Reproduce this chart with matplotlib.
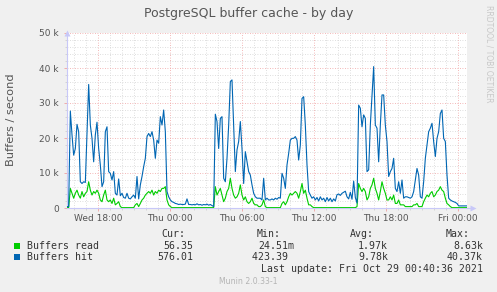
import numpy as np
import matplotlib
matplotlib.use("Agg")
import matplotlib.pyplot as plt
import matplotlib.dates as mdates
from matplotlib.patches import Rectangle

# ---------------- data (k buffers / second) ----------------
start_time = np.datetime64("2021-10-27T15:25:00")
step_seconds = 500

buffers_hit = [
    0.4, 0.4, 27.7, 20.9, 15.1, 17, 23.9, 21.8, 7.5, 7,
    7.5, 7.3, 20.9, 35.3, 23.7, 19.9, 13.2, 20.9, 24.5, 17,
    12.3, 6.1, 7.5, 21.8, 23.2, 10.4, 9.9, 8, 10.4, 4.2,
    3.7, 8.3, 3.5, 4.2, 3, 2.8, 4.2, 2.8, 2.6, 3.2,
    3.7, 2.8, 9, 2.6, 6.6, 9, 11.8, 14.2, 20.4, 21.3,
    20.4, 21.8, 19.4, 14.2, 19.4, 18.5, 26.1, 23.7, 28, 21.8,
    4.7, 3.2, 2.3, 1.8, 1.6, 1.3, 1.2, 1, 1.1, 1,
    1, 1.1, 2.6, 1, 1, 0.9, 1, 0.9, 1.2, 0.9,
    1, 0.8, 1, 0.9, 1.1, 0.8, 1, 0.7, 0.4, 26.8,
    24.7, 17, 25.6, 26.1, 8.5, 7.5, 14.2, 23.7, 36.1, 36.6,
    23.7, 10.4, 16.6, 19, 24.7, 17, 7, 16.1, 13.2, 10.4,
    9.4, 6.6, 4.2, 3.2, 2.8, 2.8, 2.8, 2.3, 8.5, 2.3,
    2.8, 2.3,
    2.3, 2.6, 2.3, 2.8, 2.5, 3, 2.8, 9.9, 8.5, 5.6,
    12.3, 15.6, 19.4, 19.9, 19.9, 20.4, 19.4, 13.7, 18, 31.3,
    31.8, 23.7, 12.3, 4.7, 3.7, 2.8, 3.2, 2.3, 3, 2,
    3.2, 2.3, 2.8, 1.8, 3, 2, 2.8, 1.8, 2.6, 2,
    3.8, 4, 3.6, 4.2, 4.5, 4.8, 3.2, 2.6, 4.5, 2.5,
    7.7, 3, 1.4, 29.4, 28.5, 23.2, 26.6, 25.6, 10.4, 10.9,
    23.7, 32.3, 40.4, 23.7, 22.8, 13.2, 23.7, 32.3, 32.3, 23.7,
    19, 9, 10.4, 11.3, 14.2, 5.6, 4.7, 7.5, 4.2, 8,
    2.8, 3.2, 3.2, 3, 2.8, 3.2, 4.7, 8, 11.3, 9.4,
    3.2, 2.8, 7.5, 14.2, 18, 21.8, 22.8, 24.2, 19, 14.7,
    19.9, 21.8, 27, 28, 19.9, 19, 9.4, 2.8, 2.3, 2,
    1.8, 1.6, 1.3, 0.6, 0.6, 0.6, 0.6, 0.6, 0.6,
]

buffers_read = [
    0.1, 0.1, 5.6, 4.2, 2.8, 4.2, 5.1, 3.7, 2.8, 4.7,
    3.2, 4.2, 4.7, 7.5, 5.1, 3.7, 4.7, 4.2, 5.1, 4.2,
    2.3, 1.8, 3.7, 5.1, 2.3, 1.8, 2.3, 1.3, 2.8, 0.9,
    1.3, 1.8, 0.4, 0.1, 0.1, 0.1, 0.1, 0.1, 0.1, 0.1,
    0.1, 0.9, 1.3, 0.4, 1.3, 2.3, 2.8, 3.7, 4.2, 4.7,
    4.2, 5.1, 3.7, 4.7, 4.2, 5.1, 4.7, 5.6, 5.6, 6.1,
    2.3, 0.9, 0.4, 0.1, 0.1, 0.1, 0.1, 0.1, 0.1, 0.1,
    0.1, 0.1, 0.1, 0.1, 0.1, 0.1, 0.1, 0.1, 0.1, 0.1,
    0.1, 0.1, 0.1, 0.1, 0.1, 0.1, 0.1, 0.1, 0.1, 6.1,
    3.7, 4.7, 5.6, 3.7, 1.8, 2.8, 4.7, 5.6, 8.5, 5.6,
    3.7, 2.8, 3.2, 4.2, 6.6, 3.7, 2.3, 3.2, 1.8, 1.3,
    1.8, 2.8, 1.3, 0.9, 0.9, 0.4, 0.4, 0.9, 2.3, 0.4,
    0.1, 0.1,
    0.1, 0.1, 0.1, 0.1, 0.1, 0.1, 0.1, 1.3, 1.8, 0.9,
    1.8, 3.2, 4.2, 3.7, 4.2, 4.7, 4.2, 2.8, 4.7, 7,
    4.2, 5.1, 2.8, 0.9, 0.9, 0.4, 0.1, 0.1, 0.1, 0.1,
    0.1, 0.1, 0.1, 0.1, 0.1, 0.1, 0.1, 0.1, 0.1, 0.1,
    0.1, 0.1, 0.1, 0.1, 0.1, 0.1, 0.1, 0.1, 0.1, 0.1,
    0.1, 0.1, 0.4, 7, 5.6, 4.7, 5.6, 4.7, 2.3, 3.2,
    5.6, 6.6, 8.5, 5.6, 4.2, 2.3, 4.7, 7.5, 5.6, 4.2,
    2.3, 2.3, 3.2, 2.3, 3.7, 1.3, 1.3, 2.3, 0.9, 0.9,
    0.9, 0.4, 0.4, 0.4, 0.4, 0.4, 0.9, 0.9, 1.3, 0.4,
    0.4, 0.4, 1.8, 2.8, 3.7, 3.2, 4.2, 4.7, 3.2, 3.7,
    4.7, 5.1, 6.1, 5.1, 4.7, 2.8, 1.3, 0.9, 0.4, 0.1,
    0.1, 0.1, 0.1, 0.1, 0.1, 0.1, 0.1, 0.1, 0.1,
]

series_names = ["Buffers read", "Buffers hit"]
series_colors = ["#00CC00", "#0066B3"]
legend_cur = ["56.35", "576.01"]
legend_min = ["24.51m", "423.39"]
legend_avg = ["1.97k", "9.78k"]
legend_max = ["8.63k", "40.37k"]
y_ticks = [0, 10, 20, 30, 40, 50]
y_tick_labels = ["0", "10 k", "20 k", "30 k", "40 k", "50 k"]

# ---------------- figure ----------------
W, H = 497, 292
fig = plt.figure(figsize=(W / 100, H / 100), dpi=100, facecolor="#F0F0F0")

def fx(x):
    return x / W

def fy(y):
    return 1 - y / H

L, R, T, B = 67, 467, 33, 208
ax = fig.add_axes([fx(L), fy(B), (R - L) / W, (B - T) / H])
ax.set_facecolor("white")

def times(n):
    return start_time + np.arange(n) * np.timedelta64(step_seconds, "s")

t_hit = times(len(buffers_hit))
t_read = times(len(buffers_read))

ax.plot(t_read, buffers_read, color=series_colors[0], lw=0.8, zorder=3)
ax.plot(t_hit, buffers_hit, color=series_colors[1], lw=0.8, zorder=4)

ax.set_xlim(np.datetime64("2021-10-27T15:25:00"), np.datetime64("2021-10-29T00:45:00"))
ax.set_ylim(0, 50)

ax.xaxis.set_major_locator(mdates.HourLocator(byhour=[0, 6, 12, 18]))
ax.xaxis.set_minor_locator(mdates.HourLocator())
ax.xaxis.set_major_formatter(mdates.DateFormatter("%a %H:%M"))
ax.set_yticks(y_ticks)
ax.set_yticklabels(y_tick_labels)
ax.yaxis.set_minor_locator(matplotlib.ticker.MultipleLocator(2))

ax.grid(which="major", color="#F0A0A0", linestyle=(0, (1, 2)), lw=0.6)
ax.grid(which="minor", color="#D4D4D4", linestyle=(0, (1, 2)), lw=0.6)
ax.set_axisbelow(True)

for s in ["top", "right"]:
    ax.spines[s].set_visible(False)
for s in ["left", "bottom"]:
    ax.spines[s].set_color("#C8C8F8")
    ax.spines[s].set_linewidth(0.8)

ax.tick_params(axis="both", which="major", labelsize=6.5, labelcolor="#555555",
               color="#F0A0A0", length=2, width=0.6)
ax.tick_params(axis="both", which="minor", color="#C8C8C8", length=1.5, width=0.5)
ax.tick_params(axis="y", pad=4)
ax.tick_params(axis="x", pad=2.5)

# axis arrows
ax.plot([1.0, 1.015], [0, 0], transform=ax.transAxes, color="#C8C8F8", lw=0.8, clip_on=False)
ax.plot([1.015], [0], transform=ax.transAxes, marker=">", ms=4, color="#C8C8F8",
        mec="none", clip_on=False)
ax.plot([0], [1.0], transform=ax.transAxes, marker="^", ms=4, color="#C8C8F8",
        mec="none", clip_on=False)

# texts
fig.text(fx(248.7), fy(13.5), "PostgreSQL buffer cache - by day", ha="center", va="center",
         fontsize=9, color="#555555")
fig.text(fx(10.7), fy(120), "Buffers / second", rotation=90, ha="center", va="center",
         fontsize=8.2, color="#555555")
fig.text(fx(489), fy(5), "RRDTOOL / TOBI OETIKER", rotation=270, ha="center", va="top",
         fontsize=5.5, color="#C8C8C8")

mono = dict(family="DejaVu Sans Mono", fontsize=7.1, color="#333333", va="center")
fig.text(fx(185.5), fy(234), "Cur:", ha="right", **mono)
fig.text(fx(280.3), fy(234), "Min:", ha="right", **mono)
fig.text(fx(374), fy(234), "Avg:", ha="right", **mono)
fig.text(fx(469.5), fy(234), "Max:", ha="right", **mono)

rows_y = [245.7, 257.3]
for i in range(2):
    y = rows_y[i]
    fig.patches.append(Rectangle((fx(14), fy(y + 3)), 6 / W, 6 / H, transform=fig.transFigure,
                                 facecolor=series_colors[i], edgecolor="none"))
    fig.text(fx(26.7), fy(y), series_names[i], ha="left", **mono)
    fig.text(fx(193.5), fy(y), legend_cur[i], ha="right", **mono)
    mn = legend_min[i] if legend_min[i][-1].isalpha() else legend_min[i] + " "
    fig.text(fx(294), fy(y), mn, ha="right", **mono)
    fig.text(fx(388), fy(y), legend_avg[i], ha="right", **mono)
    fig.text(fx(483), fy(y), legend_max[i], ha="right", **mono)

fig.text(fx(483), fy(269), "Last update: Fri Oct 29 00:40:36 2021", ha="right", **mono)
fig.text(fx(248.5), fy(281), "Munin 2.0.33-1", ha="center", va="center", fontsize=5.6,
         color="#B4B4B4")

fig.savefig("out.png", dpi=100, facecolor=fig.get_facecolor())
